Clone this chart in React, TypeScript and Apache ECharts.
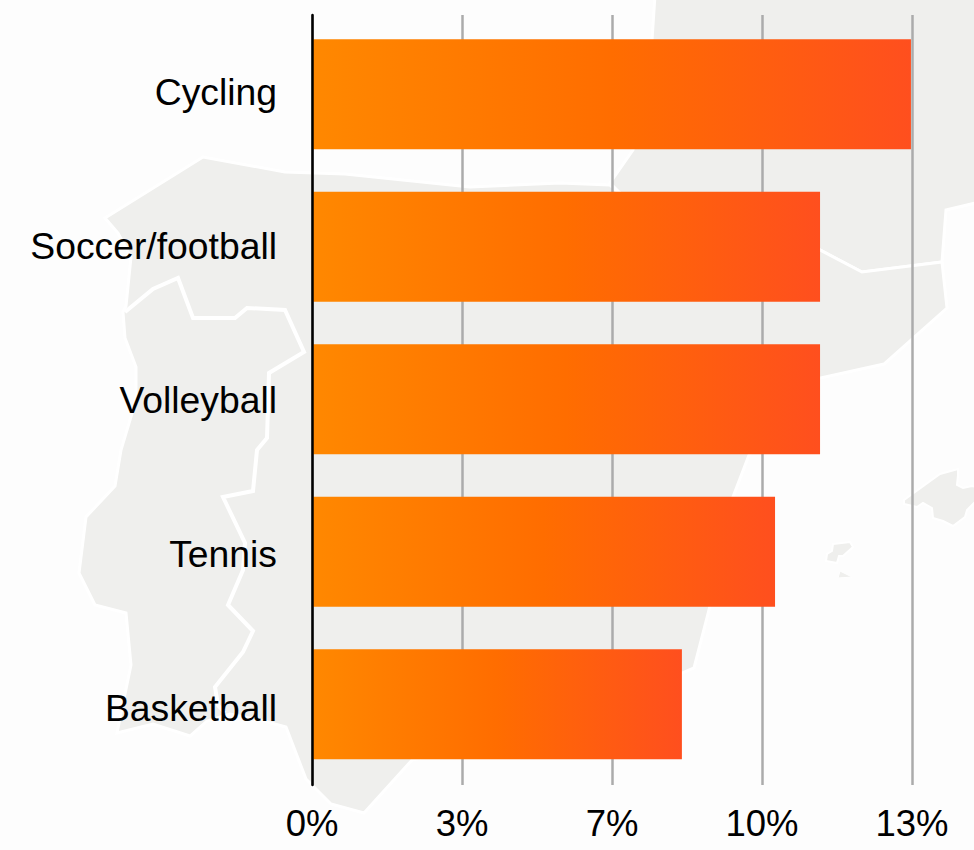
import React, { useEffect, useRef } from "react";
import * as echarts from "echarts";

const sports = ["Cycling", "Soccer/football", "Volleyball", "Tennis", "Basketball"];
const shares = [13.31, 11.29, 11.29, 10.29, 8.22];
const tickStep = 10 / 3;
const axisMax = 40 / 3;

// Decorative map of the Iberian peninsula behind the plot, in pixels.
const landFill = "#EFEFED";
const iberia = [
  [105, 218], [203, 157], [285, 172], [345, 174], [470, 187], [560, 183], [610, 185],
  [625, 198], [820, 250], [862, 272], [942, 262], [947, 308], [884, 364], [820, 378],
  [749, 455], [733, 497], [709, 610], [694, 668], [682, 673], [600, 720], [412, 760],
  [364, 813], [331, 804], [306, 779], [286, 727], [260, 720], [230, 714], [207, 721],
  [190, 736], [153, 724], [117, 733], [131, 665], [126, 613], [95, 605], [79, 573],
  [86, 517], [115, 486], [121, 450], [136, 400], [136, 367], [125, 338], [123, 312],
  [126, 306], [131, 257], [118, 233],
];
const france = [
  [655, -5], [652, 40], [633, 150], [610, 183], [625, 198], [820, 250], [862, 272],
  [942, 262], [946, 210], [980, 202], [980, -5],
];
const portugalBorder = [
  [125, 312], [153, 289], [178, 278], [193, 318], [235, 318], [247, 308], [285, 310],
  [304, 352], [269, 373], [267, 438], [257, 450], [253, 491], [223, 497], [245, 543],
  [243, 570], [228, 605], [253, 631], [243, 652], [215, 687], [218, 705], [225, 713],
];
const mallorca = [
  [904, 500], [940, 474], [958, 469], [958, 475], [957, 485], [963, 488], [972, 486],
  [980, 488], [980, 497], [967, 510], [965, 517], [953, 526], [943, 521], [933, 518],
  [932, 508], [923, 503], [917, 507], [904, 504],
];
const ibiza = [
  [833, 544], [850, 542], [853, 547], [843, 556], [839, 556], [837, 563], [826, 561],
  [827, 554], [832, 551],
];
const formentera = [[840, 571], [852, 577], [838, 578]];

const land = (points: number[][], lineWidth: number) => ({
  type: "polygon",
  z: -10,
  silent: true,
  shape: { points },
  style: { fill: landFill, stroke: "#FFFFFF", lineWidth },
});

const labelFont = "'Liberation Sans', Arial, sans-serif";

export default function App() {
  const ref = useRef<HTMLDivElement>(null);

  useEffect(() => {
    const chart = echarts.init(ref.current!, undefined, { renderer: "svg" });
    chart.setOption({
      animation: false,
      backgroundColor: "#FDFDFD",
      graphic: {
        elements: [
          land(france, 3),
          land(iberia, 3),
          land(mallorca, 2),
          land(ibiza, 2),
          land(formentera, 1),
          {
            type: "polyline",
            z: -9,
            silent: true,
            shape: { points: portugalBorder },
            style: { fill: "none", stroke: "#FFFFFF", lineWidth: 4 },
          },
        ],
      },
      grid: [
        // Frame that holds both axes, the rules and the sport names.
        { left: 312, width: 600, top: 15, height: 770 },
        // Bars sit in a slightly shorter band than the rules.
        { left: 312, width: 600, top: 18, height: 762.5 },
      ],
      xAxis: [
        {
          type: "value",
          gridIndex: 0,
          min: 0,
          max: axisMax,
          interval: tickStep,
          axisLine: { show: false },
          axisTick: { show: false },
          axisLabel: {
            show: true,
            margin: 20,
            fontFamily: labelFont,
            fontSize: 36.5,
            color: "#000000",
            formatter: (v: number) => `${Math.round(v)}%`,
          },
          splitLine: { show: true, lineStyle: { color: "#ABABAB", width: 2.5 } },
        },
        { type: "value", gridIndex: 1, min: 0, max: axisMax, show: false, splitLine: { show: false } },
      ],
      yAxis: [
        {
          type: "category",
          gridIndex: 0,
          data: sports,
          inverse: true,
          z: 5,
          axisLine: { show: true, onZero: false, lineStyle: { color: "#000000", width: 2.5 } },
          axisTick: { show: false },
          axisLabel: {
            margin: 35,
            padding: [2, 0, 0, 0],
            fontFamily: labelFont,
            fontSize: 37.3,
            color: "#000000",
          },
          splitLine: { show: false },
        },
        {
          type: "category",
          gridIndex: 1,
          data: sports,
          inverse: true,
          show: false,
        },
      ],
      series: [
        {
          type: "bar",
          xAxisIndex: 1,
          yAxisIndex: 1,
          data: shares,
          barWidth: 110,
          itemStyle: {
            color: new echarts.graphic.LinearGradient(0, 0, 1, 0, [
              { offset: 0, color: "#FF8800" },
              { offset: 0.5, color: "#FF6D00" },
              { offset: 1, color: "#FF4F1E" },
            ]),
          },
        },
      ],
    });
    return () => chart.dispose();
  }, []);

  return <div ref={ref} style={{ position: "fixed", left: 0, top: 0, width: 974, height: 850 }} />;
}
